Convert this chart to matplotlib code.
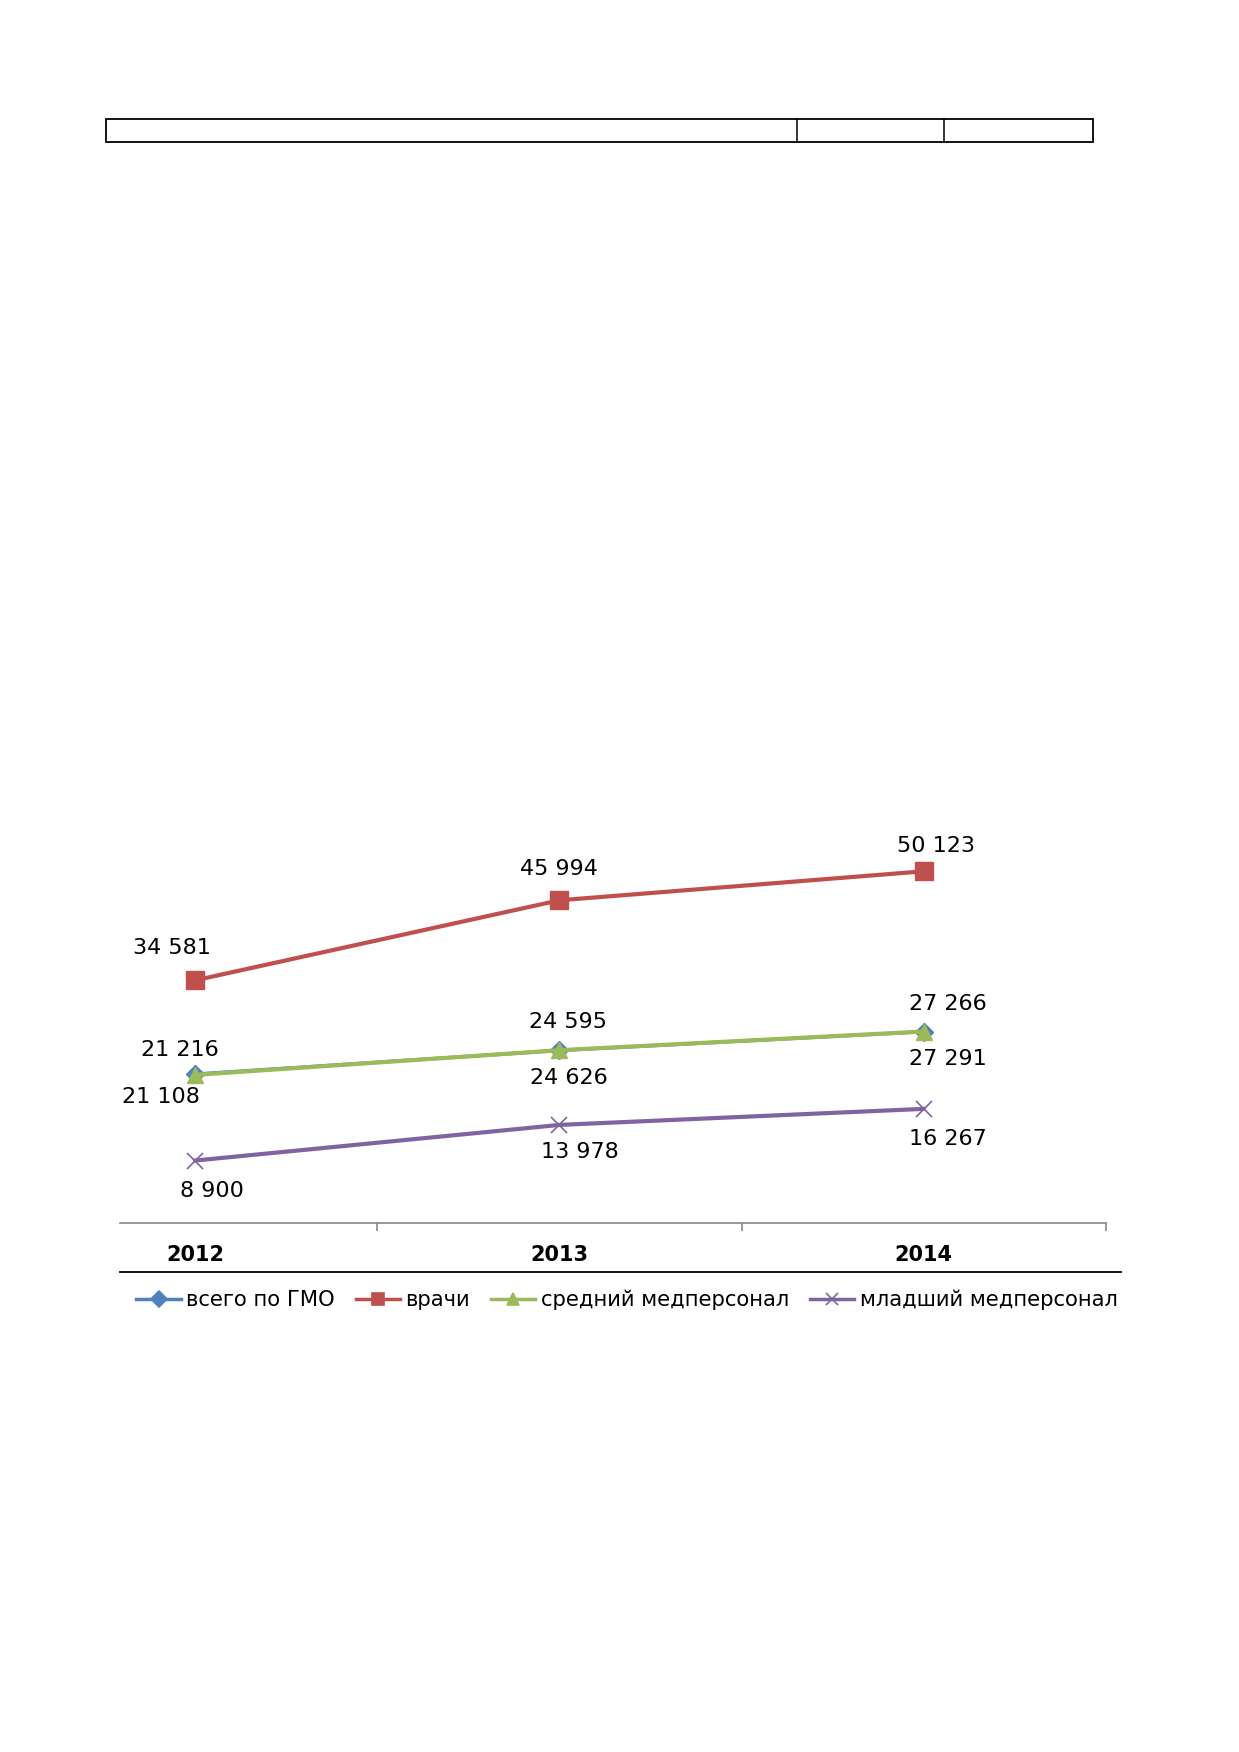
import matplotlib
matplotlib.use("Agg")
import matplotlib.pyplot as plt
from matplotlib.lines import Line2D
from matplotlib.patches import Rectangle

years = ["2012", "2013", "2014"]
vsego = [21216, 24595, 27266]
vrachi = [34581, 45994, 50123]
sredniy = [21108, 24626, 27291]
mladshiy = [8900, 13978, 16267]
names = ["всего по ГМО", "врачи", "средний медперсонал", "младший медперсонал"]

W, H = 1239, 1752
fig = plt.figure(figsize=(W / 100, H / 100), dpi=100)

def fx(px):
    return px / W

def fy(py):
    return 1 - py / H

# empty table row at the top of the page
fig.add_artist(Rectangle((fx(106), fy(142)), fx(1093) - fx(106), fy(119) - fy(142),
                         transform=fig.transFigure, fill=False, ec="black", lw=1.3))
for xd in (797, 944):
    fig.add_artist(Line2D([fx(xd), fx(xd)], [fy(119), fy(142)], color="black", lw=1.1))

ax = fig.add_axes([fx(120), fy(1223), fx(1106) - fx(120), fy(802) - fy(1223)])
x = list(range(len(years)))

series = [
    (vsego, "#4F81BD", "D", 9, 2.5),
    (vrachi, "#C0504D", "s", 13, 3.0),
    (sredniy, "#9BBB59", "^", 12, 3.0),
    (mladshiy, "#8064A2", "x", 11, 3.0),
]
handles = []
for (vals, col, mk, ms, lw), nm in zip(series, names):
    mew = 1.2 if mk == "x" else 1
    h, = ax.plot(x, vals, color=col, lw=lw, marker=mk, ms=ms, mew=mew, label=nm)
    handles.append(h)

# data label offsets in pixels (dx, dy downwards)
offsets = {
    0: [(-15, -24), (9, -28), (24, -28)],
    1: [(-23, -32), (0, -31), (12, -25)],
    2: [(-34, 22), (9, 28), (24, 27)],
    3: [(17, 30), (20, 27), (24, 30)],
}
for si, (vals, *_rest) in enumerate(series):
    for i, v in enumerate(vals):
        dx, dy = offsets[si][i]
        ax.annotate(f"{v:,}".replace(",", " "), (i, v), xytext=(dx * 0.72, -dy * 0.72),
                    textcoords="offset points", ha="center", va="center", fontsize=16)

ax.set_xlim(-0.206, 2.5)
ax.set_ylim(0, 60000)
for s in ("left", "top", "right"):
    ax.spines[s].set_visible(False)
ax.spines["bottom"].set_color("#868686")
ax.spines["bottom"].set_linewidth(1.2)
ax.set_yticks([])
ax.set_xticks([0.5, 1.5, 2.5])
ax.set_xticklabels([])
ax.tick_params(axis="x", direction="out", length=6, width=1.2, color="#868686")

for i, yr in enumerate(years):
    ax.annotate(yr, (i, 0), xycoords=("data", "axes fraction"), xytext=(0, -23),
                textcoords="offset points", ha="center", va="center",
                fontsize=15, fontweight="bold")

fig.add_artist(Line2D([fx(120), fx(1121)], [fy(1272), fy(1272)], color="black", lw=1.3))

leg_handles = [Line2D([0], [0], color=h.get_color(), lw=2.5, marker=h.get_marker(),
                      ms=8, mew=1.2) for h in handles]
fig.legend(leg_handles, names, loc="center", bbox_to_anchor=(fx(627), fy(1300)),
           ncol=4, frameon=False, fontsize=15.2, handlelength=2.1, handletextpad=0.25,
           columnspacing=1.0, borderpad=0)

fig.savefig("out.png", dpi=100)
